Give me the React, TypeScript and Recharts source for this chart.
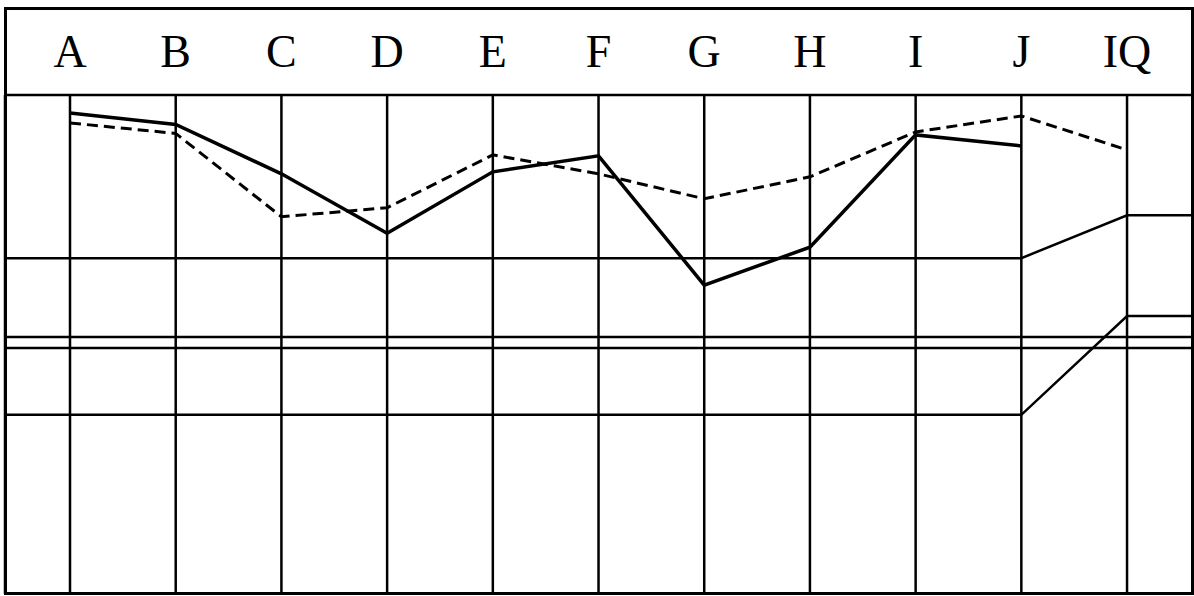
import React from 'react';
import { LineChart, Line, XAxis, YAxis, CartesianGrid, ReferenceLine } from 'recharts';

// Category labels (header row)
const categories = ['A', 'B', 'C', 'D', 'E', 'F', 'G', 'H', 'I', 'J', 'IQ'];

// Solid profile (A..J, no IQ value)
const solidValues = [96.4, 94.1, 84.2, 72.3, 84.6, 87.8, 61.9, 69.5, 92.0, 89.8];

// Dashed profile (A..IQ)
const dashedValues = [94.4, 92.3, 75.6, 77.4, 88.0, 84.2, 79.2, 83.6, 92.6, 95.8, 89.0];

// Band boundary lines (A..IQ)
const upperBandValues = [67.3, 67.3, 67.3, 67.3, 67.3, 67.3, 67.3, 67.3, 67.3, 67.3, 75.9];
const lowerBandValues = [35.9, 35.9, 35.9, 35.9, 35.9, 35.9, 35.9, 35.9, 35.9, 35.9, 55.7];

// Full-width reference levels
const referenceLevels = [51.5, 49.3];

// Axis extent (in category-index units) beyond first/last category
const xMin = -0.615;
const xMax = 10.624;

const categoryIndices = categories.map((_, i) => i);

const mainData = categories.map((c, i) => ({
  x: i,
  solid: solidValues[i],
  dashed: dashedValues[i],
}));

const bandData = (values: number[]) => {
  const pts = values.map((v, i) => ({ x: i, v }));
  return [{ x: xMin, v: values[0] }, ...pts, { x: xMax, v: values[values.length - 1] }];
};

const HeaderTick = (props: any) => {
  const { x, y, payload } = props;
  return (
    <text
      x={x}
      y={y}
      textAnchor="middle"
      fontFamily="'Liberation Serif', 'Times New Roman', serif"
      fontSize={46}
      fill="#000"
    >
      {categories[payload.value]}
    </text>
  );
};

export default function App() {
  return (
    <div style={{ position: 'absolute', left: 0, top: 0, width: 1194, height: 596, background: '#fff' }}>
      <LineChart
        width={1194}
        height={596}
        margin={{ top: 8, left: 5, right: 1, bottom: 2 }}
      >
        <CartesianGrid horizontal={false} vertical={true} stroke="#000" strokeWidth={2.5} />
        <XAxis
          type="number"
          dataKey="x"
          orientation="top"
          domain={[xMin, xMax]}
          allowDataOverflow
          ticks={categoryIndices}
          interval={0}
          height={87}
          tickSize={0}
          tickLine={false}
          tickMargin={28}
          axisLine={{ stroke: '#000', strokeWidth: 2.5 }}
          tick={<HeaderTick />}
        />
        <YAxis type="number" domain={[0, 100]} hide allowDataOverflow width={0} />
        {referenceLevels.map((lv) => (
          <ReferenceLine key={lv} y={lv} stroke="#000" strokeWidth={2.5} />
        ))}
        <Line
          data={bandData(upperBandValues)}
          dataKey="v"
          type="linear"
          stroke="#000"
          strokeWidth={2.5}
          dot={false}
          isAnimationActive={false}
        />
        <Line
          data={bandData(lowerBandValues)}
          dataKey="v"
          type="linear"
          stroke="#000"
          strokeWidth={2.5}
          dot={false}
          isAnimationActive={false}
        />
        <Line
          data={mainData}
          dataKey="dashed"
          type="linear"
          stroke="#000"
          strokeWidth={3}
          strokeDasharray="11 6"
          dot={false}
          isAnimationActive={false}
        />
        <Line
          data={mainData}
          dataKey="solid"
          type="linear"
          stroke="#000"
          strokeWidth={3.5}
          dot={false}
          isAnimationActive={false}
        />
      </LineChart>
      <div
        style={{
          position: 'absolute',
          left: 4,
          top: 7,
          width: 1190,
          height: 588,
          border: '3px solid #000',
          boxSizing: 'border-box',
          pointerEvents: 'none',
        }}
      />
    </div>
  );
}
